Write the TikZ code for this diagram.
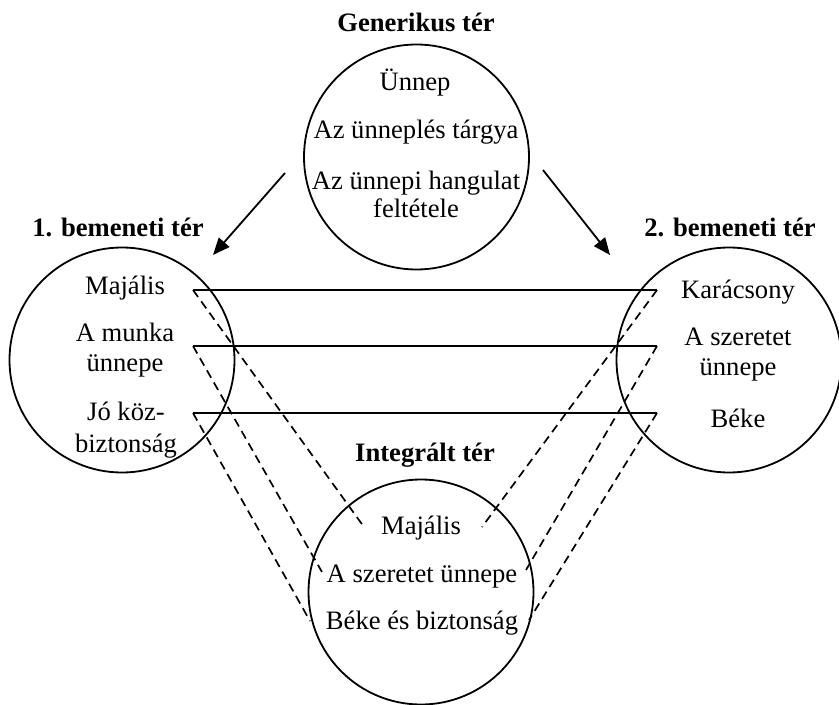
\documentclass[tikz,border=0pt]{standalone}
\usepackage{fontspec}
\setmainfont{Liberation Serif}
\usetikzlibrary{arrows.meta}
\begin{document}
\begin{tikzpicture}[x=0.5pt,y=-0.5pt,
  space/.style={circle,draw,line width=0.9pt,minimum size=112.5pt,inner sep=0pt},
  lbl/.style={inner sep=0pt,align=center,font=\fontsize{13.3}{15}\selectfont},
  ttl/.style={inner sep=0pt,font=\fontsize{13.3}{15}\selectfont\bfseries},
  solidline/.style={line width=0.95pt},
  dashline/.style={line width=0.85pt,dash pattern=on 4.3pt off 2.7pt},
  arr/.style={line width=0.9pt,-{Triangle[length=8.5pt,width=7pt]}}]
\useasboundingbox (0,0) rectangle (839,705);
% circles
\node[space] (gen) at (416.5,157) {};
\node[space] (in1) at (122,360) {};
\node[space] (in2) at (729,360) {};
\node[space] (int) at (421,592) {};
% titles
\node[ttl] (tgen) at (416,22) {Generikus tér};
\node[ttl] (tin1) at (118,227) {1. bemeneti tér};
\node[ttl] (tin2) at (730,227) {2. bemeneti tér};
\node[ttl] (tint) at (425,455) {Integrált tér};
% generic texts
\node[lbl] (g1) at (415,83) {Ünnep};
\node[lbl] (g2) at (416,132) {Az ünneplés tárgya};
\node[lbl,font=\fontsize{13.3}{14}\selectfont] (g3) at (416,194) {Az ünnepi hangulat\\feltétele};
% input 1
\node[lbl] (l1) at (125,288) {Majális};
\node[lbl] (l2) at (125,350) {A munka\\ünnepe};
\node[lbl,font=\fontsize{13.3}{16}\selectfont] (l3) at (126,430) {Jó köz-\\biztonság};
% input 2
\node[lbl] (r1) at (738,292) {Karácsony};
\node[lbl] (r2) at (738,355) {A szeretet\\ünnepe};
\node[lbl] (r3) at (738,418) {Béke};
% integrated
\node[lbl] (b1) at (421,528) {Majális};
\node[lbl] (b2) at (422,577) {A szeretet ünnepe};
\node[lbl] (b3) at (422,623) {Béke és biztonság};
% connector ends
\coordinate (L1) at (193,290);
\coordinate (L2) at (193,346);
\coordinate (L3) at (193,413);
\coordinate (R1) at (657,290);
\coordinate (R2) at (657,346);
\coordinate (R3) at (657,413);
\coordinate (BL1) at (364,527);
\coordinate (BL2) at (322,572);
\coordinate (BL3) at (310,621);
\coordinate (BR1) at (482,527);
\coordinate (BR2) at (526,570);
\coordinate (BR3) at (529,620);
\coordinate (A1s) at (285,173);
\coordinate (A1e) at (213,255);
\coordinate (A2s) at (543,170);
\coordinate (A2e) at (610,255);
% solid lines
\draw[solidline] (L1) -- (R1);
\draw[solidline] (L2) -- (R2);
\draw[solidline] (L3) -- (R3);
% dashed lines
\draw[dashline] (L1) -- (BL1);
\draw[dashline] (L2) -- (BL2);
\draw[dashline] (L3) -- (BL3);
\draw[dashline] (R1) -- (BR1);
\draw[dashline] (R2) -- (BR2);
\draw[dashline] (R3) -- (BR3);
% arrows
\draw[arr] (A1s) -- (A1e);
\draw[arr] (A2s) -- (A2e);
\end{tikzpicture}
\end{document}
